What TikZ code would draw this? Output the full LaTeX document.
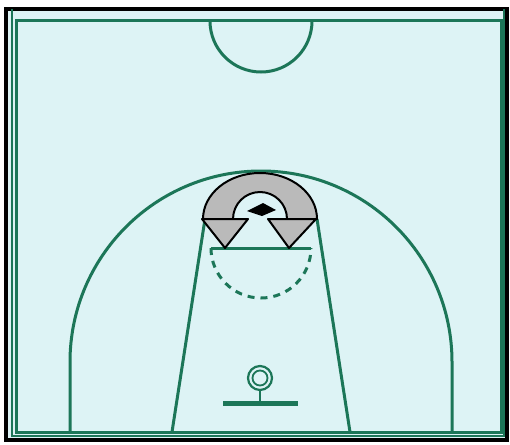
\documentclass[tikz,border=0pt]{standalone}
\usepackage{tikz}
\usetikzlibrary{calc}
\definecolor{courtbg}{RGB}{221,243,245}
\definecolor{courtgreen}{RGB}{28,118,88}
\definecolor{arrowgray}{RGB}{186,186,186}
\tikzset{courtline/.style={draw=courtgreen, line width=3pt},
  thinline/.style={draw=courtgreen, line width=1.6pt},
  turnpart/.style={fill=arrowgray, draw=black, line width=2pt, line join=round}}
\begin{document}
\begin{tikzpicture}[x=1pt,y=-1pt]
\useasboundingbox (0,0) rectangle (510,444);
\fill[white] (0,0) rectangle (510,444);
% frame
\draw[line width=3.5pt, fill=courtbg] (6,9) rectangle (507,440);
\draw[thinline] (12,9) -- (12,436) -- (504,436) -- (504,9);
\draw[courtline] (16,21) rectangle (501,432);
% centre circle
\draw[courtline] (210,21) arc[start angle=180, end angle=0, radius=51];
% three point line
\coordinate (tl) at (70,432);
\coordinate (tr) at (452,432);
\draw[courtline] (tl) -- (70,362) arc[start angle=180, end angle=360, radius=191] -- (tr);
% lane
\draw[courtline] (172,432) -- (205,219);
\draw[courtline] (350,432) -- (317,219);
\draw[courtline] (211,248) -- (311,248);
\draw[courtline, dash pattern=on 7pt off 6pt] (211,248) arc[start angle=180, end angle=0, radius=50];
% basket
\draw[courtline, line width=5pt] (223,403) -- (298,403);
\draw[courtline, line width=2.2pt] (260,390) -- (260,403);
\draw[courtline, line width=2.2pt] (260,378) circle[radius=12];
\draw[courtline, line width=1.8pt] (260,378) circle[radius=7.5];
% turn arrow
\draw[turnpart] (203,219) arc[start angle=180, end angle=360, x radius=57, y radius=46]
  -- (287,219) arc[start angle=0, end angle=-180, radius=27] -- cycle;
\draw[turnpart] (202,219) -- (248,219) -- (225,248) -- cycle;
\draw[turnpart] (268,219) -- (316,219) -- (289,248) -- cycle;
\fill[black] (247,211) -- (263,203) -- (276,210) -- (262,216) -- cycle;
\end{tikzpicture}
\end{document}
